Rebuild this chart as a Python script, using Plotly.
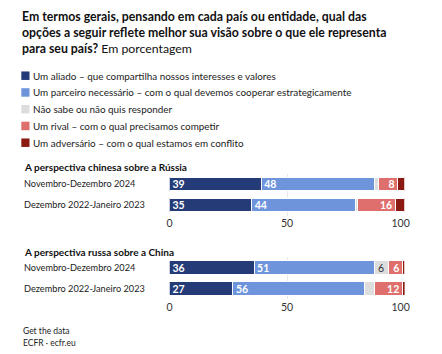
import plotly.graph_objects as go

W, H = 442, 354

series_names = [
    "Um aliado – que compartilha nossos interesses e valores",
    "Um parceiro necessário – com o qual devemos cooperar estrategicamente",
    "Não sabe ou não quis responder",
    "Um rival – com o qual precisamos competir",
    "Um adversário – com o qual estamos em conflito",
]
series_colors = ["#243b77", "#6e95dc", "#dddddd", "#df6f6d", "#8b1a12"]
label_colors = ["white", "white", "#333333", "white", "white"]
label_anchor = ["start", "start", "middle", "end", "end"]

periods = ["Novembro-Dezembro 2024", "Dezembro 2022-Janeiro 2023"]

panel_titles = ["A perspectiva chinesa sobre a Rússia", "A perspectiva russa sobre a China"]

# values per series, [Nov-Dez 2024, Dez 2022-Jan 2023]
china_on_russia = {
    "aliado": [39, 35],
    "parceiro": [48, 44],
    "nao_sabe": [2, 1],
    "rival": [8, 16],
    "adversario": [3, 4],
}
russia_on_china = {
    "aliado": [36, 27],
    "parceiro": [51, 56],
    "nao_sabe": [6, 4],
    "rival": [6, 12],
    "adversario": [1, 2],
}
keys = ["aliado", "parceiro", "nao_sabe", "rival", "adversario"]
panels = [china_on_russia, russia_on_china]

tick_vals = [0, 50, 100]
tick_text = ["0", "50", "100\u00a0\u00a0\u00a0"]

FONT = "Lato"

def py(px):
    return 1 - px / H

def pxx(px):
    return px / W

fig = go.Figure()
for p, data in enumerate(panels):
    xa = "x" if p == 0 else "x2"
    ya = "y" if p == 0 else "y2"
    for i, k in enumerate(keys):
        vals = data[k]
        fig.add_trace(go.Bar(
            x=vals, y=periods, orientation="h",
            name=series_names[i],
            marker=dict(color=series_colors[i], line=dict(color="white", width=1)),
            text=[str(v) if v >= 5 else "" for v in vals],
            texttemplate="<b>%{text}</b>" if label_colors[i] == "white" else "%{text}",
            textposition="inside",
            insidetextanchor=label_anchor[i],
            constraintext="none",
            textangle=0,
            textfont=dict(family=FONT, size=10.5, color=label_colors[i]),
            width=0.64,
            xaxis=xa, yaxis=ya,
            showlegend=False,
            hoverinfo="skip",
        ))

x_dom = [pxx(172.7), pxx(416.7)]
axis_common = dict(
    range=[0, 100], tickvals=tick_vals, ticktext=tick_text,
    showgrid=True, gridcolor="#e9e9e9", gridwidth=1, zeroline=False,
    showline=False, ticks="", tickfont=dict(family=FONT, size=10.5, color="#333333"),
    fixedrange=True, domain=x_dom,
)
fig.update_layout(
    width=W, height=H,
    margin=dict(l=0, r=0, t=0, b=0),
    paper_bgcolor="white", plot_bgcolor="white",
    barmode="stack", bargap=0.36,
    font=dict(family=FONT, color="#222222"),
    xaxis=dict(anchor="y", **axis_common),
    xaxis2=dict(anchor="y2", **axis_common),
    yaxis=dict(domain=[py(215.5), py(173.5)], categoryorder="array", categoryarray=periods,
               autorange="reversed", showticklabels=False, showgrid=False, fixedrange=True),
    yaxis2=dict(domain=[py(299.2), py(257.2)], categoryorder="array", categoryarray=periods,
                autorange="reversed", showticklabels=False, showgrid=False, fixedrange=True),
)

ann = []
ann.append(dict(
    text="<b>Em termos gerais, pensando em cada país ou entidade, qual das</b><br>"
         "<b>opções a seguir reflete melhor sua visão sobre o que ele representa</b><br>"
         "<b>para seu país?</b> Em porcentagem",
    x=pxx(18), y=py(6.5), xref="paper", yref="paper", xanchor="left", yanchor="top",
    align="left", showarrow=False, font=dict(family=FONT, size=12.3, color="#111111"),
))
# manual legend
shapes = []
leg_y0, leg_dy = 75.7, 16.75
for i, name in enumerate(series_names):
    yc = leg_y0 + i * leg_dy
    shapes.append(dict(type="rect", xref="paper", yref="paper",
                       x0=pxx(19), x1=pxx(27.5), y0=py(yc + 4.25), y1=py(yc - 4.25),
                       fillcolor=series_colors[i], line=dict(width=0)))
    ann.append(dict(text=name, x=pxx(29.5), y=py(yc), xref="paper", yref="paper",
                    xanchor="left", yanchor="middle", showarrow=False,
                    font=dict(family=FONT, size=9.9, color="#222222")))
# panel titles and category labels
title_y = [166.7, 251.7]
for p in range(2):
    ann.append(dict(text="<b>" + panel_titles[p] + "</b>", x=pxx(19.5), y=py(title_y[p]),
                    xref="paper", yref="paper", xanchor="left", yanchor="middle",
                    showarrow=False, font=dict(family=FONT, size=10, color="#111111")))
    yref = "y" if p == 0 else "y2"
    for per in periods:
        ann.append(dict(text=per, x=pxx(19.5), y=per, xref="paper", yref=yref,
                        xanchor="left", yanchor="middle", showarrow=False,
                        font=dict(family=FONT, size=9.2, color="#222222")))
# footer
ann.append(dict(text="Get the data", x=pxx(18.5), y=py(331), xref="paper", yref="paper",
                xanchor="left", yanchor="middle", showarrow=False,
                font=dict(family=FONT, size=8.5, color="#222222")))
ann.append(dict(text="ECFR · ecfr.eu", x=pxx(18.5), y=py(342.5), xref="paper", yref="paper",
                xanchor="left", yanchor="middle", showarrow=False,
                font=dict(family=FONT, size=8.5, color="#222222")))

fig.update_layout(annotations=ann, shapes=shapes)
fig.write_html("out.html")
